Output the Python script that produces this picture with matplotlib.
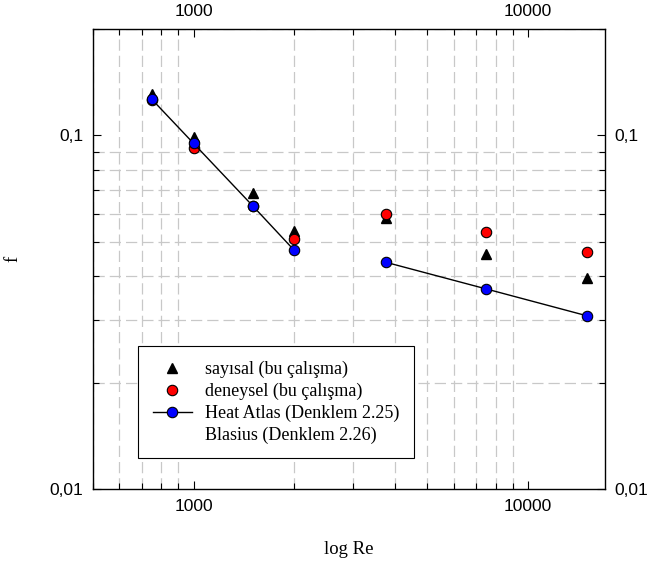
import matplotlib
matplotlib.use("Agg")
import matplotlib.pyplot as plt
from matplotlib.lines import Line2D
from matplotlib.ticker import FixedLocator, FixedFormatter, NullFormatter, LogLocator

# Reynolds numbers
re_all = [750, 1000, 1500, 2000, 3750, 7500, 15000]

# sayisal (bu calisma) - triangles
f_sayisal = [0.131, 0.0988, 0.0688, 0.0535, 0.0585, 0.0462, 0.0395]
# deneysel (bu calisma) - red circles
f_deneysel = [0.126, 0.0923, 0.0633, 0.051, 0.060, 0.0532, 0.0468]

# Heat Atlas (laminar) and Blasius (turbulent) correlations
re_lam = [750, 1000, 1500, 2000]
f_lam = [0.1265, 0.0949, 0.0633, 0.0473]
re_turb = [3750, 7500, 15000]
f_turb = [0.0438, 0.0368, 0.0309]

x_ticks = [1000, 10000]
x_labels = ["1000", "10000"]
y_ticks = [0.01, 0.1]
y_labels = ["0,01", "0,1"]

sans = "Liberation Sans"
serif = "Liberation Serif"

fig = plt.figure(figsize=(6.47, 5.65), dpi=100)
ax = fig.add_axes([93 / 647, 1 - 489 / 565, 512 / 647, 460 / 565])

ax.set_xscale("log")
ax.set_yscale("log")
ax.set_xlim(500, 17000)
ax.set_ylim(0.01, 0.2)

ax.plot(re_all, f_sayisal, linestyle="none", marker="^", color="black",
        markersize=7.5, zorder=3)
ax.plot(re_all, f_deneysel, linestyle="none", marker="o", markerfacecolor="red",
        markeredgecolor="black", markeredgewidth=0.8, markersize=7.5, zorder=4)
ax.plot(re_lam, f_lam, color="black", linewidth=1.0, marker="o",
        markerfacecolor="blue", markeredgecolor="black", markeredgewidth=0.8,
        markersize=7.5, zorder=5)
ax.plot(re_turb, f_turb, color="black", linewidth=1.0, marker="o",
        markerfacecolor="blue", markeredgecolor="black", markeredgewidth=0.8,
        markersize=7.5, zorder=5)

# ticks
ax.xaxis.set_major_locator(FixedLocator(x_ticks))
ax.xaxis.set_major_formatter(FixedFormatter(x_labels))
ax.xaxis.set_minor_locator(LogLocator(base=10, subs=range(2, 10)))
ax.xaxis.set_minor_formatter(NullFormatter())
ax.yaxis.set_major_locator(FixedLocator(y_ticks))
ax.yaxis.set_major_formatter(FixedFormatter(y_labels))
ax.yaxis.set_minor_locator(LogLocator(base=10, subs=range(2, 10)))
ax.yaxis.set_minor_formatter(NullFormatter())

ax.tick_params(which="both", direction="in", top=True, right=True,
               labeltop=True, labelright=True, width=0.8)
ax.tick_params(which="major", length=6, labelsize=12.5, pad=7)
ax.tick_params(which="minor", length=4)
for lab in ax.get_xticklabels() + ax.get_yticklabels():
    lab.set_fontfamily(sans)

ax.grid(True, which="minor", color="#c8c8c8", linestyle=(0, (9, 4)), linewidth=0.9)
ax.grid(False, which="major")
for s in ax.spines.values():
    s.set_linewidth(1.0)

ax.set_xlabel("log Re", fontfamily=serif, fontsize=13.5, labelpad=20)
ax.set_ylabel("f", fontfamily=serif, fontsize=13.5)
ax.yaxis.set_label_coords(-0.14, 0.5)

handles = [
    Line2D([], [], linestyle="none", marker="^", color="black", markersize=7.5),
    Line2D([], [], linestyle="none", marker="o", markerfacecolor="red",
           markeredgecolor="black", markeredgewidth=0.8, markersize=7.5),
    Line2D([], [], color="black", linewidth=1.0, marker="o", markerfacecolor="blue",
           markeredgecolor="black", markeredgewidth=0.8, markersize=7.5),
    Line2D([], [], linestyle="none"),
]
labels = ["sayısal (bu çalışma)", "deneysel (bu çalışma)",
          "Heat Atlas (Denklem 2.25)", "Blasius (Denklem 2.26)"]
leg = ax.legend(handles, labels, loc="lower left", bbox_to_anchor=(0.088, 0.067),
                prop={"family": serif, "size": 13}, frameon=True, fancybox=False,
                edgecolor="black", framealpha=1, borderpad=0.8, labelspacing=0.25,
                handlelength=2.2, handletextpad=0.7, borderaxespad=0)
leg.get_frame().set_linewidth(0.8)

fig.savefig("out.png", dpi=100)
